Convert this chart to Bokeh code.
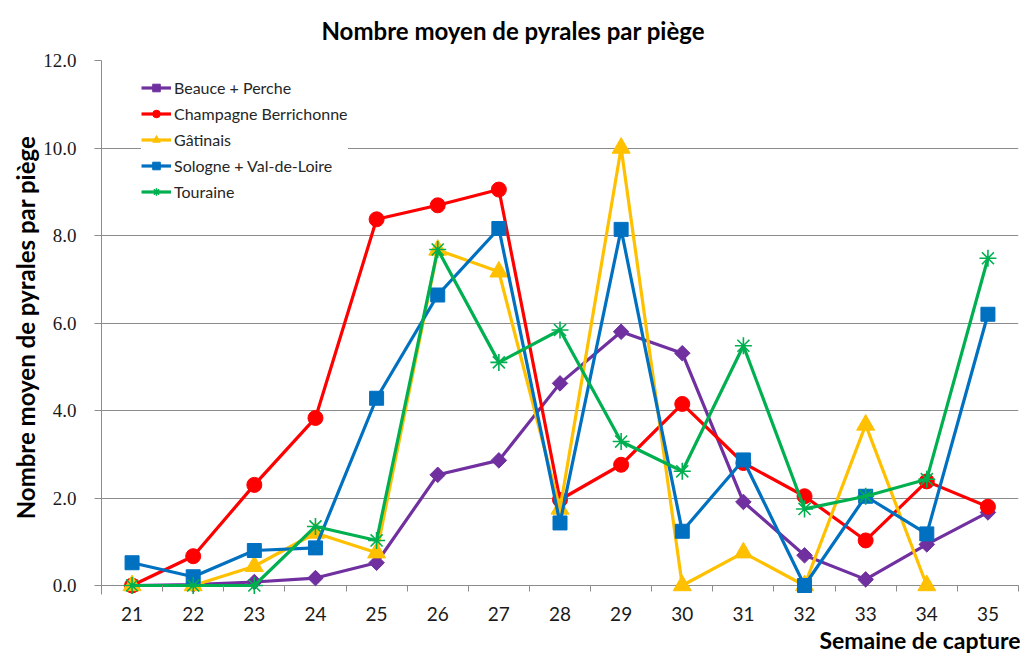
import numpy as np
from bokeh.plotting import figure
from bokeh.models import Range1d, FixedTicker, NumeralTickFormatter, Legend, LegendItem, Title
from bokeh.embed import file_html
from bokeh.resources import INLINE

# ---- data ----
weeks = [21, 22, 23, 24, 25, 26, 27, 28, 29, 30, 31, 32, 33, 34, 35]
beauce = [0.0, 0.02, 0.08, 0.17, 0.52, 2.53, 2.86, 4.62, 5.80, 5.31, 1.91, 0.69, 0.14, 0.94, 1.67]
champagne = [0.0, 0.67, 2.30, 3.83, 8.37, 8.69, 9.05, 1.96, 2.76, 4.15, 2.80, 2.04, 1.03, 2.38, 1.80]
gatinais = [0.0, 0.0, 0.44, 1.20, 0.75, 7.67, 7.17, 1.75, 10.0, 0.0, 0.75, 0.0, 3.67, 0.0, float("nan")]
sologne = [0.52, 0.20, 0.80, 0.86, 4.28, 6.64, 8.16, 1.43, 8.14, 1.24, 2.87, 0.0, 2.04, 1.18, 6.20]
touraine = [0.0, 0.0, 0.0, 1.35, 1.03, 7.68, 5.10, 5.84, 3.29, 2.61, 5.48, 1.75, 2.04, 2.43, 7.48]

series_names = ["Beauce + Perche", "Champagne Berrichonne", "Gâtinais",
                "Sologne + Val-de-Loire", "Touraine"]
y_ticks = [0, 2, 4, 6, 8, 10, 12]

title_text = "Nombre moyen de pyrales par piège"
y_label_text = "Nombre moyen de pyrales par piège"
x_label_text = "Semaine de capture"

# ---- layout (pixels) ----
W, H = 1020, 656
frame_left, frame_right, frame_top, zero_px = 101, 1018, 60, 585
pad_below_zero = 9  # room under the zero line so markers at 0 are not clipped
px_per_unit = (zero_px - frame_top) / 12.0
y_start = -pad_below_zero / px_per_unit

p = figure(width=W, height=H, output_backend="svg", toolbar_location=None,
           title=None, x_range=Range1d(20.5, 35.5), y_range=Range1d(y_start, 12),
           min_border_left=frame_left, min_border_right=W - frame_right,
           min_border_top=frame_top, min_border_bottom=H - zero_px - pad_below_zero)
p.outline_line_color = None
p.background_fill_color = "white"

p.add_layout(Title(text=title_text, align="left", offset=220, standoff=28,
                   vertical_align="top",
                   text_font="Lato", text_font_style="bold", text_font_size="24px",
                   text_color="black"), "above")

grey = "#8C8C8C"
p.xgrid.grid_line_color = None
p.ygrid.grid_line_color = grey
p.ygrid.ticker = FixedTicker(ticks=y_ticks)

# x axis (drawn at frame bottom, tick marks start at the zero line)
xa = p.xaxis[0]
xa.ticker = FixedTicker(ticks=weeks, minor_ticks=[w - 0.5 for w in weeks] + [weeks[-1] + 0.5])
xa.major_tick_out = 0
xa.major_tick_in = 0
xa.minor_tick_in = pad_below_zero
xa.minor_tick_out = -3
xa.minor_tick_line_color = grey
xa.axis_line_color = None
xa.major_label_standoff = 12
xa.major_label_text_font = "Lato"
xa.major_label_text_font_size = "19px"
xa.major_label_text_color = "#1a1a1a"

# y axis
ya = p.yaxis[0]
ya.ticker = FixedTicker(ticks=y_ticks)
ya.formatter = NumeralTickFormatter(format="0.0")
ya.major_tick_out = 7
ya.major_tick_in = 0
ya.minor_tick_line_color = None
ya.major_tick_line_color = grey
ya.axis_line_color = grey
ya.major_label_standoff = 18
ya.major_label_text_font = "Liberation Serif"
ya.major_label_text_font_size = "19px"
ya.major_label_text_color = "#1a1a1a"
ya.axis_label = y_label_text
ya.axis_label_standoff = 0
ya.axis_label_text_font = "Lato"
ya.axis_label_text_font_style = "bold"
ya.axis_label_text_font_size = "24px"
ya.axis_label_text_color = "black"

xt = Title(text=x_label_text, align="right", standoff=0, offset=-2,
           text_font="Lato", text_font_style="bold", text_font_size="23px",
           text_color="black")
p.add_layout(xt, "below")

colors = ["#7030A0", "#FF0000", "#FFC000", "#0070C0", "#00B050"]
data = [beauce, champagne, gatinais, sologne, touraine]

items = []
for name, vals, col, k in zip(series_names, data, colors, range(5)):
    ln = p.line(weeks, vals, line_color=col, line_width=3.2)
    if k == 0:
        mk = p.scatter(weeks, vals, marker="square", angle=np.pi / 4, size=11,
                       fill_color=col, line_color=col)
    elif k == 1:
        mk = p.scatter(weeks, vals, marker="circle", size=15, fill_color=col, line_color=col)
    elif k == 2:
        mk = p.scatter(weeks, vals, marker="triangle", size=18, fill_color=col, line_color=col)
    elif k == 3:
        mk = p.scatter(weeks, vals, marker="square", size=14, fill_color=col, line_color=col)
    else:
        mk = p.scatter(weeks, vals, marker="asterisk", size=17, line_color=col, line_width=1.6)
    items.append(LegendItem(label=name, renderers=[ln, mk]))

# the zero line (the category axis line of the reference)
p.ray(x=[20.5], y=[0], length=0, angle=0, line_color=grey, line_width=1, level="underlay")

legend = Legend(items=items, location=(40, 393))
legend.background_fill_color = "white"
legend.background_fill_alpha = 1.0
legend.border_line_color = None
legend.label_text_font = "Lato"
legend.label_text_font_size = "16px"
legend.label_text_color = "#262626"
legend.glyph_width = 30
legend.glyph_height = 19
legend.label_height = 19
legend.spacing = 7
legend.padding = 10
legend.label_standoff = 3
legend.margin = 0
p.add_layout(legend, "center")

open("out.html", "w").write(file_html(p, INLINE))
